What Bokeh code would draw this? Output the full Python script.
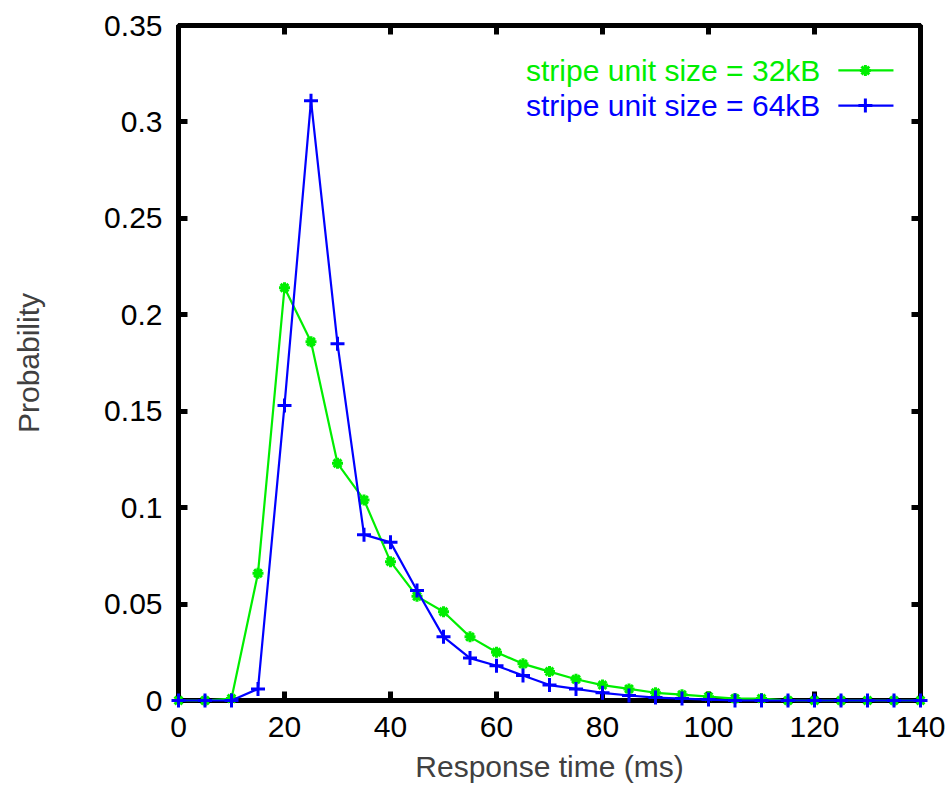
from bokeh.plotting import figure
from bokeh.models import Range1d, LinearAxis, FixedTicker, Label
from bokeh.embed import file_html
from bokeh.resources import INLINE

# ---- data ----
response_time = [0, 5, 10, 15, 20, 25, 30, 35, 40, 45, 50, 55, 60, 65, 70,
                 75, 80, 85, 90, 95, 100, 105, 110, 115, 120, 125, 130, 135, 140]
prob_32kB = [0, 0, 0.001, 0.066, 0.214, 0.186, 0.123, 0.104, 0.072, 0.054,
             0.046, 0.033, 0.025, 0.019, 0.015, 0.011, 0.008, 0.006, 0.004,
             0.003, 0.002, 0.001, 0.001, 0, 0, 0, 0, 0, 0]
prob_64kB = [0, 0, 0, 0.006, 0.153, 0.311, 0.185, 0.086, 0.082, 0.057,
             0.033, 0.022, 0.018, 0.013, 0.008, 0.006, 0.004, 0.0026, 0.0015,
             0.001, 0.0005, 0, 0, 0, 0, 0, 0, 0, 0]
label_32 = "stripe unit size = 32kB"
label_64 = "stripe unit size = 64kB"
x_ticks = [0, 20, 40, 60, 80, 100, 120, 140]
y_ticks = [0, 0.05, 0.1, 0.15, 0.2, 0.25, 0.3, 0.35]
y_tick_labels = ["0", "0.05", "0.1", "0.15", "0.2", "0.25", "0.3", "0.35"]

GREEN = "#00ee00"
BLUE = "#0000ff"
FONT = "Liberation Sans"
FS = "30px"

p = figure(width=945, height=786, output_backend="svg", toolbar_location=None,
           x_range=Range1d(0, 140), y_range=Range1d(0, 0.35),
           min_border_left=178, min_border_right=25, min_border_top=25,
           min_border_bottom=86)
p.grid.visible = False
p.outline_line_color = "black"
p.outline_line_width = 5
p.background_fill_color = "white"
p.border_fill_color = "white"

def style_axis(ax, show_labels):
    ax.axis_line_color = "black"
    ax.axis_line_width = 5
    ax.major_tick_in = 9
    ax.major_tick_out = 0
    ax.major_tick_line_width = 5
    ax.minor_tick_line_color = None
    ax.major_label_text_font = FONT
    if show_labels:
        ax.major_label_text_color = "black"
        ax.major_label_text_font_size = FS
    else:
        ax.major_label_text_color = None
        ax.major_label_text_font_size = "1px"
        ax.major_label_standoff = 0

xb = p.xaxis[0]
yl = p.yaxis[0]
xb.ticker = FixedTicker(ticks=x_ticks)
yl.ticker = FixedTicker(ticks=y_ticks)
yl.major_label_overrides = {t: s for t, s in zip(y_ticks, y_tick_labels)}
style_axis(xb, True)
style_axis(yl, True)
xb.major_label_standoff = 16
yl.major_label_standoff = 16
xb.axis_label = "Response time (ms)"
yl.axis_label = "Probability"
for ax in (xb, yl):
    ax.axis_label_text_font = FONT
    ax.axis_label_text_font_size = FS
    ax.axis_label_text_font_style = "normal"
    ax.axis_label_text_color = "#404040"
xb.axis_label_standoff = 10
yl.axis_label_standoff = 56

top = LinearAxis(ticker=FixedTicker(ticks=x_ticks))
style_axis(top, False)
p.add_layout(top, "above")
right = LinearAxis(ticker=FixedTicker(ticks=y_ticks))
style_axis(right, False)
p.add_layout(right, "right")

# ---- series ----
renderers = []
renderers.append(p.line(response_time, prob_32kB, line_color=GREEN, line_width=2.2))
renderers.append(p.scatter(response_time, prob_32kB, marker="asterisk", size=11,
                           line_color=GREEN, line_width=3))
renderers.append(p.line(response_time, prob_64kB, line_color=BLUE, line_width=2.2))
renderers.append(p.scatter(response_time, prob_64kB, marker="cross", size=14,
                           line_color=BLUE, line_width=3))
for r in renderers:
    r.level = "overlay"

# ---- legend (gnuplot style: text left, sample right) ----
leg_text_x = 121.1
leg_x0, leg_x1, leg_xm = 124.5, 134.9, 129.6
rows = [(label_32, GREEN, 0.3267, "asterisk", 11, 3),
        (label_64, BLUE, 0.3085, "cross", 14, 3)]
for text, col, yy, mk, sz, lw in rows:
    p.add_layout(Label(x=leg_text_x, y=yy, text=text, text_color=col,
                       text_font=FONT, text_font_size=FS,
                       text_align="right", text_baseline="middle"))
    p.line([leg_x0, leg_x1], [yy, yy], line_color=col, line_width=2.2)
    p.scatter([leg_xm], [yy], marker=mk, size=sz, line_color=col, line_width=lw)

open("out.html", "w").write(file_html(p, INLINE))
